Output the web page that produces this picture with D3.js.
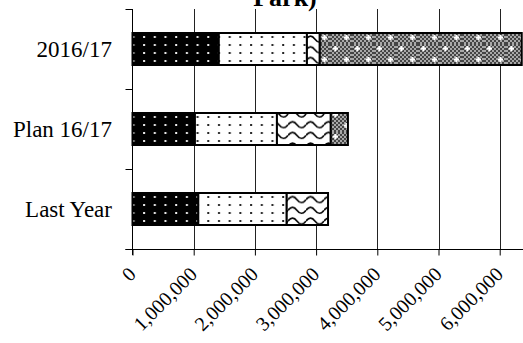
<!DOCTYPE html>
<html>
<head>
<meta charset="utf-8">
<script src="https://cdn.jsdelivr.net/npm/d3@7/dist/d3.min.js"></script>
<style>
  html, body { margin: 0; padding: 0; background: #fff; overflow: hidden; }
  svg { display: block; }
  text { font-family: "Liberation Serif", "Times New Roman", serif; fill: #000; }
</style>
</head>
<body>
<svg id="chart" width="523" height="343"></svg>
<script>
// Categories (top to bottom) and stacked series values
const categories = ["2016/17", "Plan 16/17", "Last Year"];
const seriesKeys = ["a", "b", "c", "d"];
const seriesA = [1410000, 1020000, 1075000];
const seriesB = [1440000, 1340000, 1445000];
const seriesC = [210000, 880000, 675000];
const seriesD = [3300000, 280000, 0];
const xTickValues = [0, 1000000, 2000000, 3000000, 4000000, 5000000, 6000000];
const titleText = "Park)";

const rows = categories.map((c, i) => ({
  cat: c, a: seriesA[i], b: seriesB[i], c: seriesC[i], d: seriesD[i]
}));

const svg = d3.select("#chart");
const plotLeft = 132.5, plotTop = 9, plotBottom = 249;

const x = d3.scaleLinear().domain([0, 7000000]).range([plotLeft, plotLeft + 7 * 61.2]);
const y = d3.scaleBand().domain(categories).range([plotTop, plotBottom])
  .paddingInner(0.6).paddingOuter(0.3);

// Fill patterns
const defs = svg.append("defs");

// black with white dots
const pA = defs.append("pattern").attr("id", "pA").attr("patternUnits", "userSpaceOnUse")
  .attr("x", 0).attr("y", 1).attr("width", 10.7).attr("height", 8);
pA.append("rect").attr("width", 10.7).attr("height", 8).attr("fill", "#000");
pA.append("rect").attr("x", 4).attr("y", 3).attr("width", 2).attr("height", 2).attr("fill", "#eee");

// white with black dots
const pB = defs.append("pattern").attr("id", "pB").attr("patternUnits", "userSpaceOnUse")
  .attr("x", 0).attr("y", 1).attr("width", 10.7).attr("height", 8);
pB.append("rect").attr("width", 10.7).attr("height", 8).attr("fill", "#fff");
pB.append("rect").attr("x", 4).attr("y", 3).attr("width", 2).attr("height", 2).attr("fill", "#222");

// white with waves
const pC = defs.append("pattern").attr("id", "pC").attr("patternUnits", "userSpaceOnUse")
  .attr("x", 0).attr("y", 2).attr("width", 18).attr("height", 10.7);
pC.append("rect").attr("width", 18).attr("height", 10.7).attr("fill", "#fff");
pC.append("path").attr("d", "M0,5 C3,1 6,1 9,5 C12,9 15,9 18,5")
  .attr("fill", "none").attr("stroke", "#000").attr("stroke-width", 1.6);

// gray checker with white sparkles
const pD = defs.append("pattern").attr("id", "pD").attr("patternUnits", "userSpaceOnUse")
  .attr("x", 0).attr("y", 0).attr("width", 22).attr("height", 22);
pD.append("rect").attr("width", 22).attr("height", 22).attr("fill", "#a8a8a8");
for (let i = 0; i < 11; i++) {
  for (let j = 0; j < 11; j++) {
    if ((i + j) % 2 === 0) {
      pD.append("rect").attr("x", i * 2).attr("y", j * 2)
        .attr("width", 2).attr("height", 2).attr("fill", "#444");
    }
  }
}
[[5, 4], [16, 15]].forEach(([cx, cy]) => {
  pD.append("rect").attr("x", cx - 2).attr("y", cy - 0.5).attr("width", 5).attr("height", 2).attr("fill", "#fff");
  pD.append("rect").attr("x", cx - 0.5).attr("y", cy - 2).attr("width", 2).attr("height", 5).attr("fill", "#fff");
});

const fills = { a: "url(#pA)", b: "url(#pB)", c: "url(#pC)", d: "url(#pD)" };

// Vertical gridlines
svg.append("g").selectAll("line").data(xTickValues.filter(v => v > 0)).join("line")
  .attr("x1", d => Math.round(x(d)) + 0.5).attr("x2", d => Math.round(x(d)) + 0.5)
  .attr("y1", plotTop).attr("y2", plotBottom)
  .attr("stroke", "#222").attr("stroke-width", 1);

// Stacked bars
const stacked = d3.stack().keys(seriesKeys)(rows);
svg.append("g").selectAll("g").data(stacked).join("g")
  .attr("fill", d => fills[d.key])
  .selectAll("rect").data(d => d.filter(s => s[1] - s[0] > 0)).join("rect")
  .attr("x", d => x(d[0]))
  .attr("y", d => y(d.data.cat))
  .attr("width", d => x(d[1]) - x(d[0]))
  .attr("height", y.bandwidth())
  .attr("stroke", "#000").attr("stroke-width", 2);

// Bottom axis
const xAxis = svg.append("g").attr("transform", `translate(0,${plotBottom + 0.5})`)
  .call(d3.axisBottom(x).tickValues(xTickValues).tickSizeInner(6).tickSizeOuter(0)
    .tickFormat(d3.format(",")));
xAxis.select(".domain").attr("d", `M${plotLeft - 7},0H523`).attr("stroke", "#000");
xAxis.selectAll(".tick line").attr("stroke", "#000");
xAxis.selectAll(".tick text")
  .attr("font-family", "Liberation Serif, Times New Roman, serif")
  .attr("font-size", 20)
  .attr("text-anchor", "end")
  .attr("dy", null)
  .attr("y", 0)
  .attr("transform", "translate(4,26) rotate(-45)");

// Left axis
const yTicks = [plotTop, plotTop + y.step(), plotTop + 2 * y.step(), plotBottom];
svg.append("line").attr("x1", plotLeft).attr("x2", plotLeft).attr("y1", plotTop).attr("y2", plotBottom + 6)
  .attr("stroke", "#000");
svg.append("g").selectAll("line").data(yTicks).join("line")
  .attr("x1", plotLeft - 7).attr("x2", plotLeft).attr("y1", d => d + 0.5).attr("y2", d => d + 0.5)
  .attr("stroke", "#000");

svg.append("g").selectAll("text").data(categories).join("text")
  .attr("x", 112).attr("y", d => y(d) + y.bandwidth() / 2 + 8)
  .attr("text-anchor", "end").attr("font-size", 23)
  .text(d => d);

// Title (last line visible at top)
svg.append("text").attr("x", 285).attr("y", 6).attr("text-anchor", "middle")
  .attr("font-size", 26).attr("font-weight", "bold").text(titleText);
</script>
</body>
</html>
